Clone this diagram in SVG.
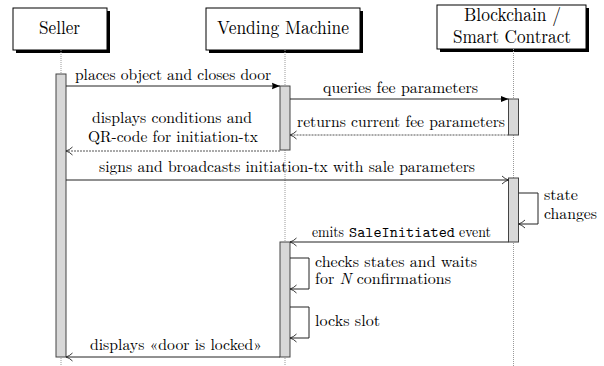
<svg xmlns="http://www.w3.org/2000/svg" width="604" height="366" viewBox="0 0 604 366" font-family="Latin Modern Roman, Liberation Serif, serif">
<style>
.box{fill:#fff;stroke:#000;stroke-width:1}
.shadow{fill:#000}
.life{stroke:#9a9a9a;stroke-width:1;stroke-dasharray:1 1;fill:none}
.act{fill:#d8d8d8;stroke:#444;stroke-width:1}
.msg{stroke:#222;stroke-width:1;fill:none}
.ret{stroke:#555;stroke-width:1;stroke-dasharray:2 1;fill:none}
.t{font-size:15.4px;fill:#000}
.h{font-size:19px;fill:#000}
.tt{font-size:14.5px;fill:#000}
</style>
<defs>
<marker id="fill" markerUnits="userSpaceOnUse" markerWidth="9" markerHeight="8" refX="8" refY="4" orient="auto">
<path d="M0,0.8 L8,4 L0,7.2 Q1.2,4 0,0.8 z" fill="#000"/>
</marker>
<marker id="open" markerUnits="userSpaceOnUse" markerWidth="9" markerHeight="10" refX="7.5" refY="5" orient="auto">
<path d="M1,1 Q4,4 7.5,5 Q4,6 1,9" fill="none" stroke="#222" stroke-width="0.9"/>
</marker>
</defs>

<g id="seller">
<rect class="shadow" x="16" y="11" width="94" height="42"/>
<rect class="box" x="13" y="8" width="94" height="42"/>
<text class="h" x="39" y="34" textLength="41" lengthAdjust="spacingAndGlyphs">Seller</text>
<line class="life" x1="61" y1="50" x2="61" y2="366"/>
<rect class="act" x="56" y="74" width="10" height="283"/>
</g>

<g id="vending-machine">
<rect class="shadow" x="209" y="11" width="154" height="42"/>
<rect class="box" x="206" y="8" width="154" height="42"/>
<text class="h" x="217" y="34" textLength="132" lengthAdjust="spacingAndGlyphs">Vending Machine</text>
<line class="life" x1="285" y1="50" x2="285" y2="366"/>
<rect class="act" x="280" y="86" width="10" height="64"/>
<rect class="act" x="280" y="242" width="10" height="115"/>
</g>

<g id="blockchain">
<rect class="shadow" x="440" y="8" width="149" height="44"/>
<rect class="box" x="437" y="5" width="149" height="44"/>
<text class="h" x="464" y="21" textLength="97" lengthAdjust="spacingAndGlyphs">Blockchain /</text>
<text class="h" x="453" y="43" textLength="118" lengthAdjust="spacingAndGlyphs">Smart Contract</text>
<line class="life" x1="513.5" y1="49" x2="513.5" y2="366"/>
<rect class="act" x="508.5" y="99" width="10" height="36"/>
<rect class="act" x="508.5" y="178" width="10" height="64"/>
</g>

<g id="connectors">
<line class="msg" x1="66" y1="86" x2="280" y2="86" marker-end="url(#fill)"/>
<text class="t" x="75" y="80" textLength="196" lengthAdjust="spacingAndGlyphs">places object and closes door</text>

<line class="msg" x1="290" y1="99" x2="508.5" y2="99" marker-end="url(#fill)"/>
<text class="t" x="323" y="93" textLength="155" lengthAdjust="spacingAndGlyphs">queries fee parameters</text>

<line class="ret" x1="508.5" y1="135" x2="290" y2="135" marker-end="url(#open)"/>
<text class="t" x="297" y="127" textLength="208" lengthAdjust="spacingAndGlyphs">returns current fee parameters</text>

<line class="ret" x1="280" y1="151" x2="66" y2="151" marker-end="url(#open)"/>
<text class="t" x="92" y="123" textLength="160" lengthAdjust="spacingAndGlyphs">displays conditions and</text>
<text class="t" x="88" y="142" textLength="170" lengthAdjust="spacingAndGlyphs">QR-code for initiation-tx</text>

<line class="msg" x1="66" y1="180" x2="508.5" y2="180" marker-end="url(#open)"/>
<text class="t" x="99" y="172" textLength="376" lengthAdjust="spacingAndGlyphs">signs and broadcasts initiation-tx with sale parameters</text>

<polyline class="msg" points="518.5,193 538,193 538,224 518.5,224" marker-end="url(#open)"/>
<text class="t" x="544" y="200" textLength="34" lengthAdjust="spacingAndGlyphs">state</text>
<text class="t" x="544" y="218.5" textLength="53" lengthAdjust="spacingAndGlyphs">changes</text>

<line class="msg" x1="508.5" y1="242" x2="290" y2="242" marker-end="url(#open)"/>
<text class="t" x="312" y="237" textLength="32" lengthAdjust="spacingAndGlyphs">emits</text>
<text class="tt" font-family="Latin Modern Mono, Liberation Mono, monospace" x="349" y="237" textLength="106" lengthAdjust="spacingAndGlyphs">SaleInitiated</text>
<text class="t" x="459" y="237" textLength="32" lengthAdjust="spacingAndGlyphs">event</text>

<polyline class="msg" points="290,258 309,258 309,289 290,289" marker-end="url(#open)"/>
<text class="t" x="315" y="266.5" textLength="162" lengthAdjust="spacingAndGlyphs">checks states and waits</text>
<text class="t" x="315" y="284" textLength="136" lengthAdjust="spacingAndGlyphs">for <tspan font-style="italic">N</tspan> confirmations</text>

<polyline class="msg" points="290,307 309,307 309,338 290,338" marker-end="url(#open)"/>
<text class="t" x="315" y="326" textLength="65" lengthAdjust="spacingAndGlyphs">locks slot</text>

<line class="msg" x1="280" y1="357" x2="66" y2="357" marker-end="url(#open)"/>
<text class="t" x="90" y="350" textLength="172" lengthAdjust="spacingAndGlyphs">displays «door is locked»</text>
</g>
</svg>
